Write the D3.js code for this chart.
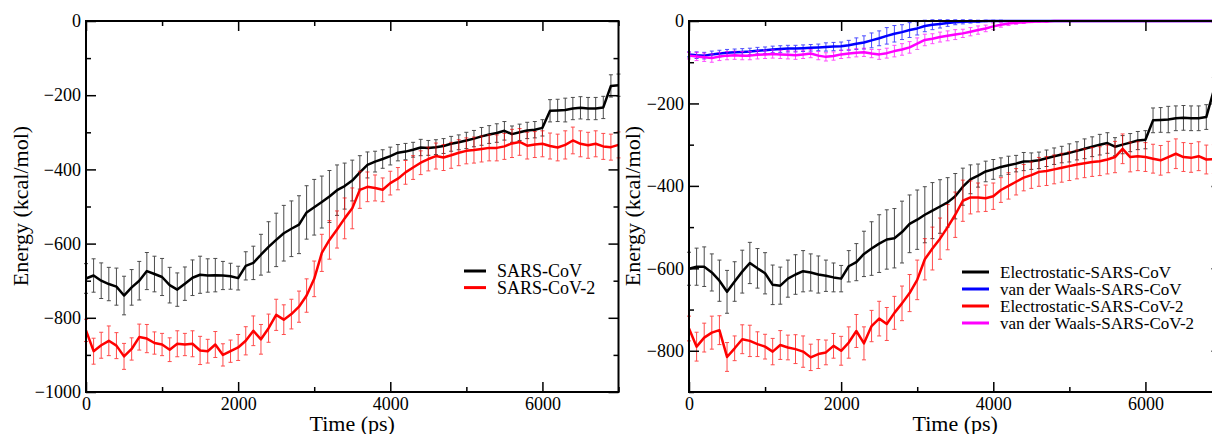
<!DOCTYPE html>
<html>
<head>
<meta charset="utf-8">
<script src="https://cdn.jsdelivr.net/npm/d3@7"></script>
<style>
  body { margin: 0; background: #fff; }
  text { font-family: "Liberation Serif", "Times New Roman", serif; fill: #000; }
</style>
</head>
<body>
<svg id="chart" width="1212" height="434"></svg>
<script>
// time grid (ps), one value every 100 ps
var time = d3.range(0, 7001, 100)

// left panel: total interaction energy
var totalCoV = [-694,-686,-700,-709,-716,-740,-718,-700,-674,-682,
  -690,-712,-724,-708,-692,-684,-686,-685,-686,-688,
  -693,-660,-652,-630,-609,-590,-572,-560,-549,-516,
  -502,-488,-473,-456,-445,-430,-408,-388,-379,-372,
  -364,-355,-352,-347,-341,-342,-340,-337,-331,-327,
  -322,-317,-311,-306,-302,-296,-305,-300,-295,-293,
  -288,-242,-241,-240,-236,-234,-236,-236,-233,-175,
  -173]
var totalCoVErr = [40,45,48,45,50,52,48,52,50,48,
  50,48,45,45,48,50,45,45,38,35,
  32,38,45,55,68,72,75,75,78,72,
  75,70,70,68,62,55,45,35,28,25,
  24,22,22,20,22,20,20,20,20,20,
  22,22,24,24,25,25,22,22,22,22,
  22,30,30,32,30,30,30,30,30,30,
  30]
var totalCoV2 = [-834,-890,-874,-862,-875,-904,-884,-852,-856,-868,
  -872,-886,-870,-872,-870,-888,-890,-872,-900,-890,
  -880,-862,-835,-858,-828,-792,-805,-790,-770,-740,
  -695,-625,-590,-562,-532,-505,-455,-447,-450,-455,
  -437,-425,-408,-395,-382,-372,-364,-368,-362,-355,
  -350,-348,-345,-342,-342,-338,-330,-326,-336,-333,
  -331,-337,-341,-334,-322,-331,-335,-331,-338,-340,
  -334]
var totalCoV2Err = [30,35,35,40,35,35,30,35,38,30,
  30,32,35,30,35,38,32,35,30,30,
  35,38,40,40,38,42,40,40,42,45,
  48,50,52,50,55,55,50,40,35,32,
  32,30,32,32,32,32,35,35,35,35,
  35,35,35,35,35,35,38,36,36,35,
  35,35,36,38,36,35,35,35,35,35,
  35]

// right panel: electrostatic and van der Waals parts
var elecCoV = [-601,-596,-596,-610,-630,-657,-632,-608,-587,-600,
  -612,-640,-642,-625,-615,-607,-610,-615,-618,-622,
  -625,-595,-585,-565,-552,-540,-530,-527,-512,-492,
  -482,-470,-460,-450,-440,-425,-402,-384,-375,-365,
  -360,-354,-350,-346,-341,-340,-338,-333,-328,-324,
  -320,-315,-310,-305,-300,-296,-305,-300,-295,-290,
  -288,-241,-240,-239,-236,-235,-236,-236,-233,-167,
  -165]
var elecCoVErr = [40,45,48,45,50,52,48,52,50,48,
  50,48,45,45,48,50,45,45,38,35,
  32,38,45,55,65,70,72,72,75,70,
  72,68,68,65,60,55,45,35,28,25,
  24,22,22,20,22,20,20,20,20,20,
  22,22,24,24,25,25,22,22,22,22,
  22,30,30,32,30,30,30,30,30,30,
  30]
var elecCoV2 = [-746,-790,-768,-756,-750,-815,-794,-772,-776,-784,
  -790,-802,-786,-792,-796,-802,-816,-808,-804,-788,
  -800,-780,-752,-782,-740,-722,-735,-708,-685,-660,
  -628,-578,-552,-528,-500,-470,-436,-428,-428,-430,
  -425,-410,-400,-390,-380,-374,-366,-364,-360,-356,
  -352,-348,-345,-342,-340,-336,-330,-310,-330,-328,
  -330,-334,-338,-330,-322,-330,-332,-328,-336,-335,
  -333]
var elecCoV2Err = [30,35,35,40,35,35,30,35,38,30,
  30,32,35,30,35,38,32,35,30,30,
  35,38,40,40,38,42,40,40,42,45,
  48,50,52,50,55,55,50,40,35,32,
  32,30,32,32,32,32,35,35,35,35,
  35,35,35,35,35,35,38,36,36,35,
  35,35,36,38,36,35,35,35,35,35,
  35]
var vdwCoV = [-81,-83,-84,-81,-79,-77,-76,-75,-74,-72,
  -71,-69,-68,-67,-67,-66,-65,-64,-63,-62,
  -61,-59,-55,-52,-47,-42,-36,-31,-27,-22,
  -18,-12,-9,-7,-5,-3,-2,-1,-1,0,
  0,0,0,0,0,0,0,0,0,0,
  0,0,0,0,0,0,0,0,0,0,
  0,0,0,0,0,0,0,0,0,0,
  0]
var vdwCoVErr = [6,8,8,8,8,8,8,8,8,8,
  8,8,8,8,8,8,8,8,10,10,
  10,12,14,16,18,18,20,20,18,18,
  16,14,12,10,8,6,5,4,3,2,
  2,2,1,1,1,1,1,1,1,1,
  1,1,1,1,1,1,1,1,1,1,
  1,1,1,1,1,1,1,1,1,1,
  1]
var vdwCoV2 = [-84,-86,-88,-90,-86,-84,-83,-84,-84,-82,
  -81,-80,-81,-82,-83,-81,-79,-84,-87,-85,
  -81,-79,-77,-76,-79,-81,-78,-73,-69,-64,
  -55,-46,-43,-39,-36,-33,-30,-26,-22,-18,
  -13,-9,-6,-4,-3,-2,-1,-1,0,0,
  0,0,0,0,0,0,0,0,0,0,
  0,0,0,0,0,0,0,0,0,0,
  0]
var vdwCoV2Err = [8,10,10,10,10,10,10,10,10,10,
  10,10,10,10,10,10,10,10,10,10,
  10,10,10,10,10,12,12,14,14,14,
  14,14,12,12,12,12,10,10,10,8,
  8,6,5,4,3,2,2,2,1,1,
  1,1,1,1,1,1,1,1,1,1,
  1,1,1,1,1,1,1,1,1,1,
  1]

var xTicks = [0, 2000, 4000, 6000]
var xMinor = [1000, 3000, 5000, 7000]

var svg = d3.select("#chart")
var plot_top = 21
var plot_bottom = 392

function drawPanel(cfg) {
  var g = svg.append("g")
  var x = d3.scaleLinear().domain([0, 7000]).range(cfg.xr)
  var y = d3.scaleLinear().domain(cfg.yd).range([plot_bottom, plot_top])

  cfg.series.forEach(function(s) {
    var pts = time.map(function(t, i) { return {t: t, v: s.values[i], e: s.err[i]} })

    // error bars with small caps
    g.append("g")
      .attr("stroke", s.color)
      .attr("stroke-width", 1)
      .attr("opacity", 0.7)
      .attr("fill", "none")
      .selectAll("path")
      .data(pts)
      .join("path")
      .attr("d", function(d) {
        var xx = x(d.t), y0 = y(d.v - d.e), y1 = y(d.v + d.e)
        return "M" + xx + "," + y0 + "V" + y1 +
               "M" + (xx - 2) + "," + y0 + "h4" +
               "M" + (xx - 2) + "," + y1 + "h4"
      })

    g.append("path")
      .datum(pts)
      .attr("fill", "none")
      .attr("stroke", s.color)
      .attr("stroke-width", 2.5)
      .attr("stroke-linejoin", "round")
      .attr("d", d3.line().x(function(d) { return x(d.t) }).y(function(d) { return y(d.v) }))
  })

  // frame
  g.append("rect")
    .attr("x", x(0)).attr("y", plot_top)
    .attr("width", x(7000) - x(0)).attr("height", plot_bottom - plot_top)
    .attr("fill", "none").attr("stroke", "#000").attr("stroke-width", 2)

  // inward ticks on all four sides
  function addAxis(axis, tx, ty, labels) {
    var a = g.append("g").attr("transform", "translate(" + tx + "," + ty + ")")
      .call(axis)
    a.select(".domain").remove()
    a.selectAll("line").attr("stroke", "#000").attr("stroke-width", 1.5)
    a.selectAll("text").style("font-size", "18px").attr("font-family", null)
    if (!labels) a.selectAll("text").remove()
  }
  addAxis(d3.axisBottom(x).tickValues(xTicks).tickSize(-10).tickPadding(5).tickFormat(d3.format("d")), 0, plot_bottom, true)
  addAxis(d3.axisBottom(x).tickValues(xMinor).tickSize(-5), 0, plot_bottom, false)
  addAxis(d3.axisTop(x).tickValues(xTicks).tickSize(-10), 0, plot_top, false)
  addAxis(d3.axisTop(x).tickValues(xMinor).tickSize(-5), 0, plot_top, false)
  addAxis(d3.axisLeft(y).tickValues(cfg.yTicks).tickSize(-10).tickPadding(5).tickFormat(d3.format("d")), x(0), 0, true)
  addAxis(d3.axisLeft(y).tickValues(cfg.yMinor).tickSize(-5), x(0), 0, false)
  addAxis(d3.axisRight(y).tickValues(cfg.yTicks).tickSize(-10), x(7000), 0, false)
  addAxis(d3.axisRight(y).tickValues(cfg.yMinor).tickSize(-5), x(7000), 0, false)

  g.append("text")
    .attr("x", (x(0) + x(7000)) / 2).attr("y", 431)
    .attr("text-anchor", "middle")
    .style("font-size", "22px")
    .text("Time (ps)")

  g.append("text")
    .attr("transform", "translate(" + cfg.yLabelX + ",206)rotate(-90)")
    .attr("text-anchor", "middle")
    .style("font-size", "22px")
    .text("Energy (kcal/mol)")

  // legend
  var leg = g.append("g").selectAll("g")
    .data(cfg.series)
    .join("g")
    .attr("transform", function(d, i) { return "translate(" + cfg.legX + "," + (cfg.legY + i * cfg.legStep) + ")" })
  leg.append("line")
    .attr("x1", 0).attr("x2", cfg.legLen)
    .attr("stroke", function(d) { return d.color })
    .attr("stroke-width", 3)
  leg.append("text")
    .attr("x", cfg.legLen + 11).attr("y", 6)
    .style("font-size", cfg.legFont)
    .text(function(d) { return d.name })
}

drawPanel({
  xr: [86, 618.5], yd: [-1000, 0],
  yTicks: [-1000, -800, -600, -400, -200, 0],
  yMinor: [-900, -700, -500, -300, -100],
  yLabelX: 28,
  legX: 464, legY: 271, legStep: 16.6, legLen: 22, legFont: "18px",
  series: [
    {name: "SARS-CoV", color: "#000000", values: totalCoV, err: totalCoVErr},
    {name: "SARS-CoV-2", color: "#ff0000", values: totalCoV2, err: totalCoV2Err}
  ]
})

drawPanel({
  xr: [689, 1221.5], yd: [-900, 0],
  yTicks: [-800, -600, -400, -200, 0],
  yMinor: [-900, -700, -500, -300, -100],
  yLabelX: 640,
  legX: 962, legY: 272, legStep: 17, legLen: 27, legFont: "17px",
  series: [
    {name: "Electrostatic-SARS-CoV", color: "#000000", values: elecCoV, err: elecCoVErr},
    {name: "van der Waals-SARS-CoV", color: "#0000ff", values: vdwCoV, err: vdwCoVErr},
    {name: "Electrostatic-SARS-CoV-2", color: "#ff0000", values: elecCoV2, err: elecCoV2Err},
    {name: "van der Waals-SARS-CoV-2", color: "#ff00ff", values: vdwCoV2, err: vdwCoV2Err}
  ]
})
</script>
</body>
</html>
